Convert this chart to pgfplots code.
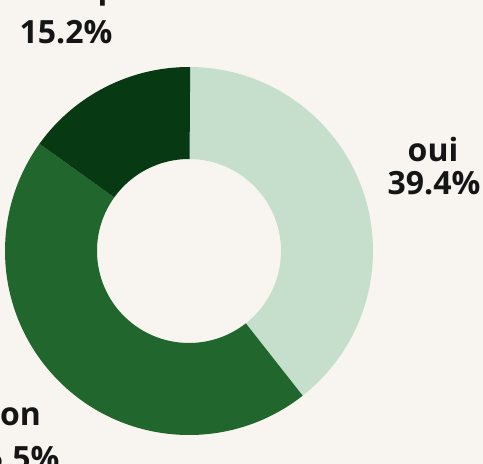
\documentclass[border=0pt]{standalone}
\usepackage{fontspec}
\setmainfont{Open Sans}
\usepackage{pgfplots}
\usepackage{pgfplotstable}
\pgfplotsset{compat=1.18}
\definecolor{bg}{HTML}{F8F5F0}
\definecolor{oui}{HTML}{C5DFCC}
\definecolor{non}{HTML}{21662C}
\definecolor{sr}{HTML}{073A12}
\definecolor{txt}{HTML}{151515}

% share of answers, clockwise from 12 o'clock
\pgfplotstableread{
label value
oui 39.4
non 45.5
sr  15.2
}\parts

\begin{document}
\begin{tikzpicture}
\fill[bg] (0,0) rectangle (483pt,464pt);
\useasboundingbox (0,0) rectangle (483pt,464pt);
\begin{axis}[
    at={(0,0)}, anchor=origin,
    x=1pt, y=1pt,
    xmin=0, xmax=483, ymin=0, ymax=464,
    scale only axis,
    hide axis,
    clip=false,
]
\pgfplotsextra{
  \gdef\acc{90}
  \foreach \i/\col in {0/oui,1/non,2/sr}{
    \pgfplotstablegetelem{\i}{value}\of\parts
    \pgfmathsetmacro\aa{\acc}
    \pgfmathsetmacro\ab{\acc-3.6*\pgfplotsretval}
    \fill[\col] ([shift={(\aa:184pt)}]axis cs:189,213)
      arc[start angle=\aa, end angle=\ab, radius=184pt]
      -- ([shift={(\ab:92pt)}]axis cs:189,213)
      arc[start angle=\ab, end angle=\aa, radius=92pt] -- cycle;
    \xdef\acc{\ab}
  }
}
\tikzset{lbl/.style={text=txt, inner sep=0pt, anchor=base,
  font=\fontsize{32}{33}\selectfont\bfseries}}
\node[lbl] at (axis cs:433,302.3) {oui};
\node[lbl] at (axis cs:434,269) {39.4\%};
\node[lbl] at (axis cs:10,38) {non};
\node[lbl] at (axis cs:13,-6) {45.5\%};
\node[lbl] at (axis cs:66,420.7) {15.2\%};
\node[lbl] at (axis cs:89,465.5) {sans réponse};
\end{axis}
\end{tikzpicture}
\end{document}
